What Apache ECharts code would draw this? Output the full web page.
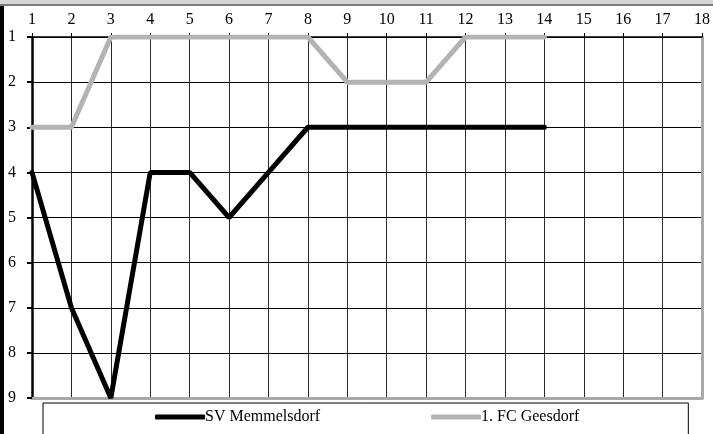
<!DOCTYPE html>
<html>
<head>
<meta charset="utf-8">
<script src="https://cdn.jsdelivr.net/npm/echarts@6/dist/echarts.min.js"></script>
<style>
  html, body { margin: 0; padding: 0; background: #fff; }
  #chart { width: 713px; height: 434px; }
</style>
</head>
<body>
<div id="chart"></div>
<script>
// Spieltage und Tabellenplätze
var rounds = [1, 2, 3, 4, 5, 6, 7, 8, 9, 10, 11, 12, 13, 14];
var memmelsdorf = [4, 7, 9, 4, 4, 5, 4, 3, 3, 3, 3, 3, 3, 3];
var geesdorf = [3, 3, 1, 1, 1, 1, 1, 1, 2, 2, 2, 1, 1, 1];
var seriesNames = ['SV Memmelsdorf', '1. FC Geesdorf'];

function pairs(vals) {
  return vals.map(function (v, i) { return [rounds[i], v]; });
}

var font = '"Liberation Serif", "Times New Roman", serif';

var myChart = echarts.init(document.getElementById('chart'));
var option = {
  animation: false,
  textStyle: { fontFamily: font },
  graphic: [
    // Rahmen oben / links
    { type: 'rect', shape: { x: 0, y: 0, width: 713, height: 4 }, style: { fill: '#d6d6d6' }, z: 100 },
    { type: 'rect', shape: { x: 0, y: 4, width: 713, height: 2 }, style: { fill: '#7a7a7a' }, z: 100 },
    { type: 'rect', shape: { x: 0, y: 6, width: 4, height: 428 }, style: { fill: '#000' }, z: 100 }
  ],
  grid: { left: 32, right: 7, top: 37, bottom: 36 },
  legend: {
    data: seriesNames,
    left: 43,
    top: 403,
    padding: [6, 109, 20, 112],
    itemGap: 111,
    itemWidth: 50,
    itemHeight: 5,
    icon: 'roundRect',
    borderColor: '#000',
    borderWidth: 1,
    textStyle: { fontFamily: font, fontSize: 16, color: '#000', padding: [0, 0, 0, -5] }
  },
  xAxis: [
    {
      type: 'value',
      position: 'top',
      min: 1,
      max: 18,
      interval: 1,
      axisLine: { show: true, lineStyle: { color: '#000', width: 1.5 } },
      axisTick: { show: true, inside: false, length: 4, lineStyle: { color: '#000', width: 1 } },
      axisLabel: { color: '#000', fontSize: 16, fontFamily: font, margin: 9 },
      splitLine: { show: true, lineStyle: { color: '#2a2a2a', width: 1 } }
    },
    {
      type: 'value',
      position: 'bottom',
      min: 1,
      max: 18,
      interval: 1,
      axisLine: { show: true, lineStyle: { color: '#a8a8a8', width: 3 } },
      axisTick: { show: false },
      axisLabel: { show: false },
      splitLine: { show: false }
    }
  ],
  yAxis: [
    {
      type: 'value',
      inverse: true,
      min: 1,
      max: 9,
      interval: 1,
      axisLine: { show: true, onZero: false, lineStyle: { color: '#000', width: 2.5 } },
      axisTick: { show: true, length: 5, lineStyle: { color: '#000', width: 2 } },
      axisLabel: { color: '#000', fontSize: 16, fontFamily: font, margin: 16 },
      splitLine: { show: true, lineStyle: { color: '#000', width: 1 } }
    },
    {
      type: 'value',
      position: 'right',
      inverse: true,
      min: 1,
      max: 9,
      interval: 1,
      axisLine: { show: true, lineStyle: { color: '#a8a8a8', width: 3 } },
      axisTick: { show: false },
      axisLabel: { show: false },
      splitLine: { show: false }
    }
  ],
  series: [
    {
      name: seriesNames[0],
      type: 'line',
      data: pairs(memmelsdorf),
      symbol: 'none',
      color: '#000',
      lineStyle: { color: '#000', width: 5, cap: 'round' },
      z: 3
    },
    {
      name: seriesNames[1],
      type: 'line',
      data: pairs(geesdorf),
      symbol: 'none',
      color: '#b3b3b3',
      lineStyle: { color: '#b3b3b3', width: 5, cap: 'round' },
      z: 3
    }
  ]
};
myChart.setOption(option);
</script>
</body>
</html>
